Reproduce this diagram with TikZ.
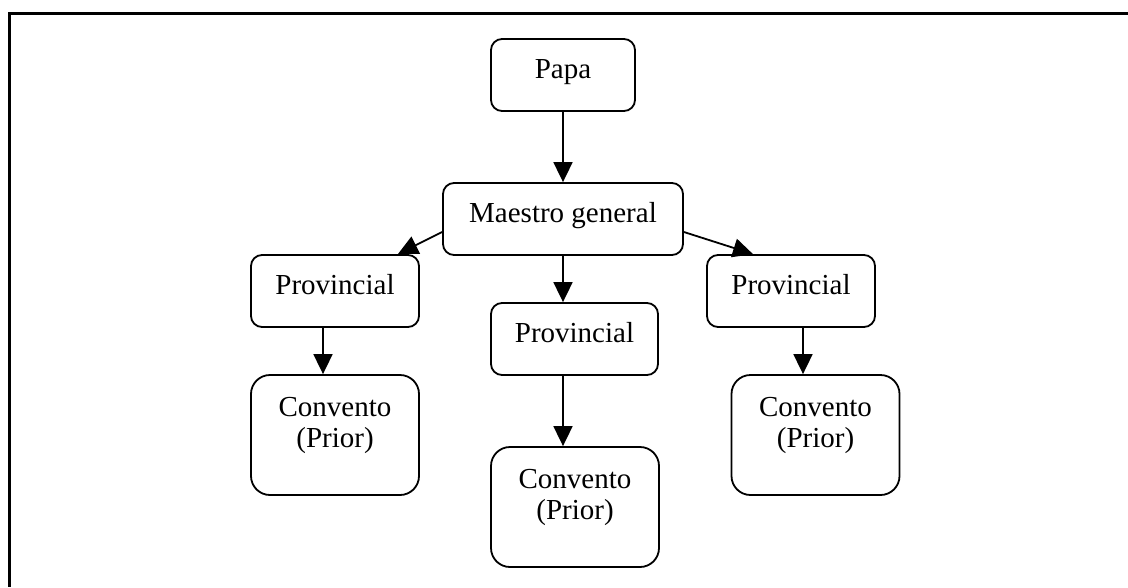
\documentclass[tikz,border=0pt]{standalone}
\usepackage{fontspec}
\setmainfont{Liberation Serif}
\usetikzlibrary{arrows.meta}

\begin{document}
\begin{tikzpicture}[x=1pt,y=-1pt,>={Triangle[length=20pt,width=19pt]},
    box/.style={draw,rounded corners=11pt,line width=1.8pt,inner sep=0pt,minimum height=72pt,
      text height=20pt,text depth=14pt,font=\fontsize{29}{31}\selectfont,align=center},
    tallbox/.style={box,minimum width=168pt,minimum height=120pt,rounded corners=19pt,
      text height=51pt,text depth=26pt},
    link/.style={->,line width=1.8pt}]
  \useasboundingbox (0,0) rectangle (1128,587);
  \draw[line width=3pt] (1128,13.5) -- (9.5,13.5) -- (9.5,587);
  \node[box,minimum width=144pt] (papa) at (563,75) {Papa};
  \node[box,minimum width=240pt] (maestro) at (563,219) {Maestro general};
  \node[box,minimum width=168pt] (provL) at (335,291) {Provincial};
  \node[box,minimum width=167pt] (provM) at (574.5,339) {Provincial};
  \node[box,minimum width=168pt] (provR) at (791,291) {Provincial};
  \node[tallbox] (convL) at (335,435) {Convento\\(Prior)};
  \node[tallbox] (convM) at (575,507) {Convento\\(Prior)};
  \node[tallbox] (convR) at (815.5,435) {Convento\\(Prior)};
  \draw[link] (papa.south) -- (maestro.north);
  \draw[link] ([yshift=-13pt]maestro.west) -- ([xshift=-22pt]provL.north east);
  \draw[link] (maestro.south) -- (maestro.south |- provM.north);
  \draw[link] ([yshift=-13pt]maestro.east) -- ([xshift=-38pt]provR.north);
  \draw[link] ([xshift=-12pt]provL.south) -- ([xshift=-12pt]convL.north);
  \draw[link] ([xshift=-11.5pt]provM.south) -- ([xshift=-11.5pt]provM.south |- convM.north);
  \draw[link] ([xshift=12pt]provR.south) -- ([xshift=12pt]provR.south |- convR.north);
\end{tikzpicture}
\end{document}
